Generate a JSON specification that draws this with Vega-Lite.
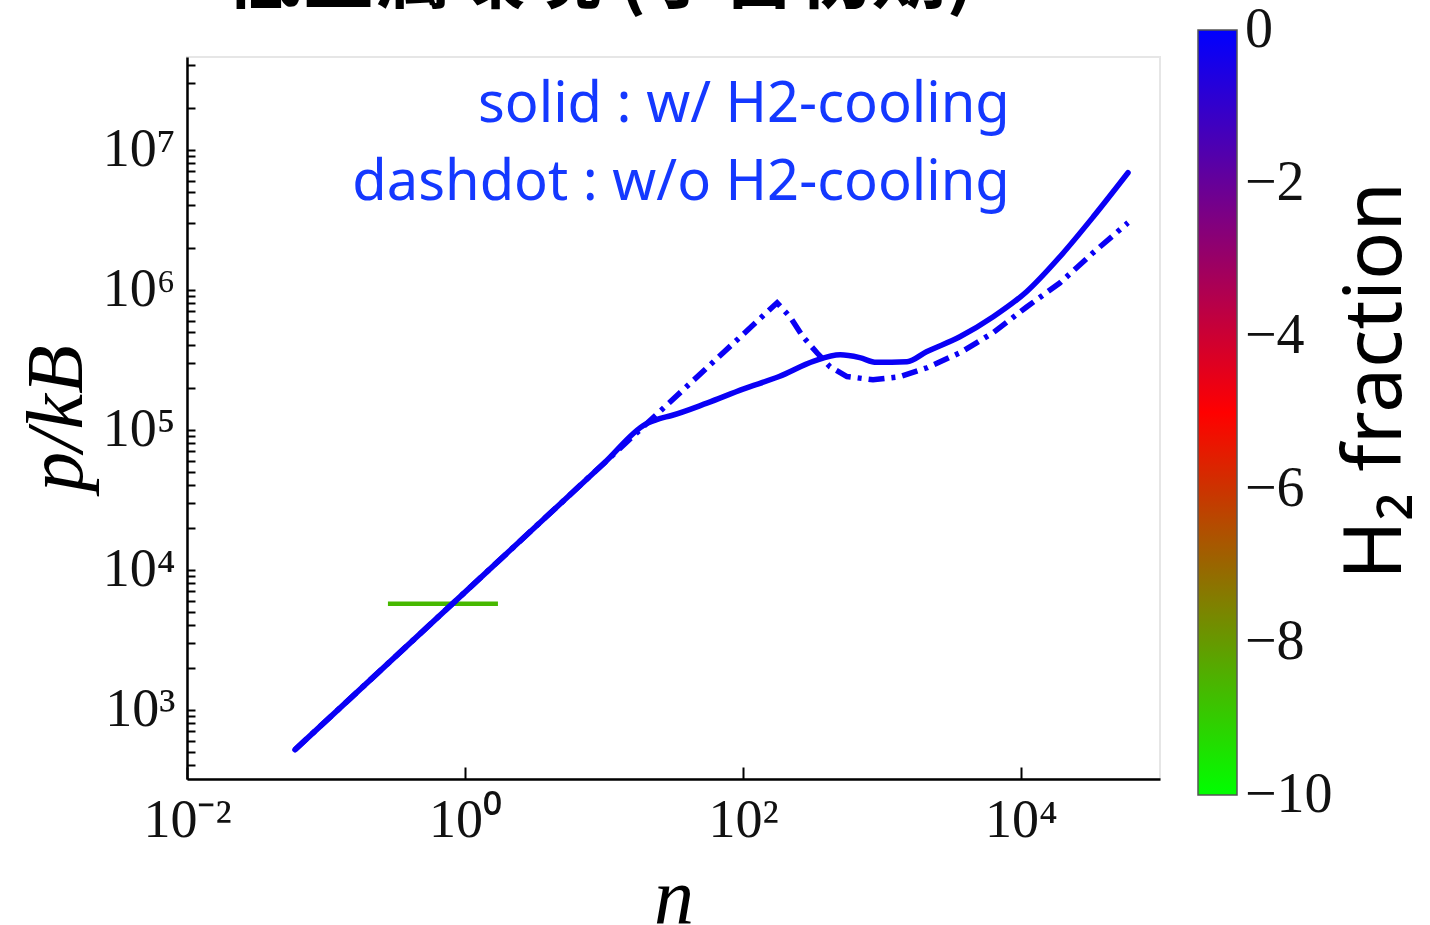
{
  "$schema": "https://vega.github.io/schema/vega-lite/v6.json",
  "width": 973,
  "height": 722,
  "autosize": {"type": "none"},
  "padding": {"left": 187, "top": 57, "right": 270, "bottom": 146},
  "background": "white",
  "title": {
    "text": "低金属環境 (宇宙初期)",
    "anchor": "start",
    "frame": "group",
    "dx": 39,
    "offset": -47,
    "baseline": "alphabetic",
    "font": "Noto Sans CJK JP",
    "fontSize": 75,
    "fontWeight": "bold",
    "color": "black",
    "limit": 2000
  },
  "config": {"view": {"stroke": "#e6e6e6", "strokeWidth": 2}},
  "datasets": {
    "solid": [
      {"n": 0.0598, "p": 518, "h2": -0.2},
      {"n": 1, "p": 6918, "h2": -0.2},
      {"n": 10, "p": 57680, "h2": -0.2},
      {"n": 19.95, "p": 109650, "h2": -0.2},
      {"n": 25.1, "p": 120000, "h2": -0.2},
      {"n": 30.2, "p": 125900, "h2": -0.2},
      {"n": 54.95, "p": 154900, "h2": -0.2},
      {"n": 100, "p": 195000, "h2": -0.2},
      {"n": 182, "p": 239900, "h2": -0.2},
      {"n": 323.6, "p": 309000, "h2": -0.2},
      {"n": 501, "p": 342800, "h2": -0.2},
      {"n": 691.8, "p": 327300, "h2": -0.2},
      {"n": 912, "p": 303000, "h2": -0.2},
      {"n": 1514, "p": 306200, "h2": -0.2},
      {"n": 2089, "p": 360600, "h2": -0.2},
      {"n": 3631, "p": 461300, "h2": -0.2},
      {"n": 6310, "p": 641200, "h2": -0.2},
      {"n": 10960, "p": 968300, "h2": -0.2},
      {"n": 19050, "p": 1722000, "h2": -0.2},
      {"n": 33110, "p": 3319000, "h2": -0.2},
      {"n": 58880, "p": 6855000, "h2": -0.2}
    ],
    "dashdot": [
      {"n": 0.0598, "p": 518, "h2": -0.2},
      {"n": 175.8, "p": 807200, "h2": -0.2},
      {"n": 217.8, "p": 641200, "h2": -0.2},
      {"n": 270.4, "p": 461300, "h2": -0.2},
      {"n": 340.4, "p": 354800, "h2": -0.2},
      {"n": 422.7, "p": 281800, "h2": -0.2},
      {"n": 559.8, "p": 240000, "h2": -0.2},
      {"n": 861, "p": 227500, "h2": -0.2},
      {"n": 1346, "p": 239300, "h2": -0.2},
      {"n": 2109, "p": 277300, "h2": -0.2},
      {"n": 3639, "p": 354800, "h2": -0.2},
      {"n": 6295, "p": 493200, "h2": -0.2},
      {"n": 11040, "p": 756800, "h2": -0.2},
      {"n": 19100, "p": 1122000, "h2": -0.2},
      {"n": 32960, "p": 1837000, "h2": -0.2},
      {"n": 58880, "p": 3013000, "h2": -0.2}
    ],
    "green": [
      {"n": 0.279, "p": 5715, "h2": -8.6},
      {"n": 1.726, "p": 5715, "h2": -8.6}
    ],
    "notes": [
      {"n": 8300, "p": 15800000, "label": "solid : w/ H2-cooling"},
      {"n": 8300, "p": 4400000, "label": "dashdot : w/o H2-cooling"}
    ]
  },
  "encoding": {
    "x": {
      "field": "n",
      "type": "quantitative",
      "scale": {"type": "log", "domain": [0.01, 100000], "nice": false},
      "axis": {
        "values": [0.01, 1, 100, 10000],
        "labelExpr": "datum.value < 0.1 ? '10⁻²' : datum.value < 10 ? '10⁰' : datum.value < 1000 ? '10²' : '10⁴'",
        "labelFont": "Liberation Serif",
        "labelFontSize": 54,
        "labelColor": "#111111",
        "labelFlush": false,
        "labelOverlap": false,
        "labelPadding": 26,
        "tickSize": -12,
        "tickColor": "black",
        "tickWidth": 2,
        "domainColor": "black",
        "domainWidth": 2.5,
        "grid": false,
        "title": "n",
        "titleFont": "Liberation Serif",
        "titleFontStyle": "italic",
        "titleFontWeight": "normal",
        "titleFontSize": 80,
        "titleColor": "black",
        "titlePadding": 12
      }
    },
    "y": {
      "field": "p",
      "type": "quantitative",
      "scale": {"type": "log", "domain": [320, 46000000], "nice": false},
      "axis": {
        "values": [400, 500, 600, 700, 800, 900, 1000, 2000, 3000, 4000, 5000, 6000, 7000, 8000, 9000, 10000, 20000, 30000, 40000, 50000, 60000, 70000, 80000, 90000, 100000, 200000, 300000, 400000, 500000, 600000, 700000, 800000, 900000, 1000000, 2000000, 3000000, 4000000, 5000000, 6000000, 7000000, 8000000, 9000000, 10000000, 20000000, 30000000, 40000000],
        "labelExpr": "abs(log(datum.value)/LN10 - round(log(datum.value)/LN10)) < 0.001 ? '10' + substring('⁰¹²³⁴⁵⁶⁷⁸⁹', round(log(datum.value)/LN10), round(log(datum.value)/LN10) + 1) : ''",
        "labelFont": "Liberation Serif",
        "labelFontSize": 54,
        "labelColor": "#111111",
        "labelOverlap": false,
        "labelPadding": 20,
        "tickSize": -8,
        "tickColor": "black",
        "tickWidth": 2,
        "domainColor": "black",
        "domainWidth": 2.5,
        "grid": false,
        "title": "p/kB",
        "titleFont": "Liberation Serif",
        "titleFontStyle": "italic",
        "titleFontWeight": "normal",
        "titleFontSize": 80,
        "titleColor": "black",
        "titlePadding": 4
      }
    }
  },
  "layer": [
    {
      "data": {"name": "green"},
      "mark": {"type": "line", "strokeWidth": 4.5, "strokeCap": "butt"},
      "encoding": {
        "color": {
          "field": "h2",
          "type": "quantitative",
          "scale": {"domain": [-10, -5, 0], "range": ["#00ff00", "#ff0000", "#0000ff"], "interpolate": "rgb"},
          "legend": {
            "orient": "none",
            "legendX": 1011,
            "legendY": -27,
            "direction": "vertical",
            "padding": 0,
            "gradientLength": 765,
            "gradientThickness": 39,
            "gradientStrokeColor": "#555555",
            "gradientStrokeWidth": 1.5,
            "values": [0, -2, -4, -6, -8, -10],
            "labelFont": "Liberation Serif",
            "labelFontSize": 56,
            "labelColor": "#111111",
            "labelOffset": 8,
            "labelOverlap": false,
            "title": "H₂ fraction",
            "titleOrient": "right",
            "titleFont": "Noto Sans",
            "titleFontSize": 80,
            "titleFontWeight": "normal",
            "titleColor": "black",
            "titleLimit": 2000,
            "titlePadding": 85,
            "encode": {
              "title": {"update": {"angle": {"value": -90}, "dx": {"value": 32}}},
              "labels": {"update": {"baseline": {"value": "middle"}}}
            }
          }
        }
      }
    },
    {
      "data": {"name": "dashdot"},
      "mark": {"type": "line", "strokeWidth": 5.5, "strokeDash": [16, 7, 4, 7], "strokeCap": "butt"},
      "encoding": {"color": {"field": "h2", "type": "quantitative"}}
    },
    {
      "data": {"name": "solid"},
      "mark": {"type": "line", "strokeWidth": 5.5, "strokeCap": "round", "strokeJoin": "round", "interpolate": "monotone"},
      "encoding": {"color": {"field": "h2", "type": "quantitative"}}
    },
    {
      "data": {"name": "notes"},
      "mark": {"type": "text", "align": "right", "baseline": "alphabetic", "font": "Noto Sans", "fontSize": 56, "color": "#1438ff"},
      "encoding": {"text": {"field": "label", "type": "nominal"}}
    }
  ]
}
